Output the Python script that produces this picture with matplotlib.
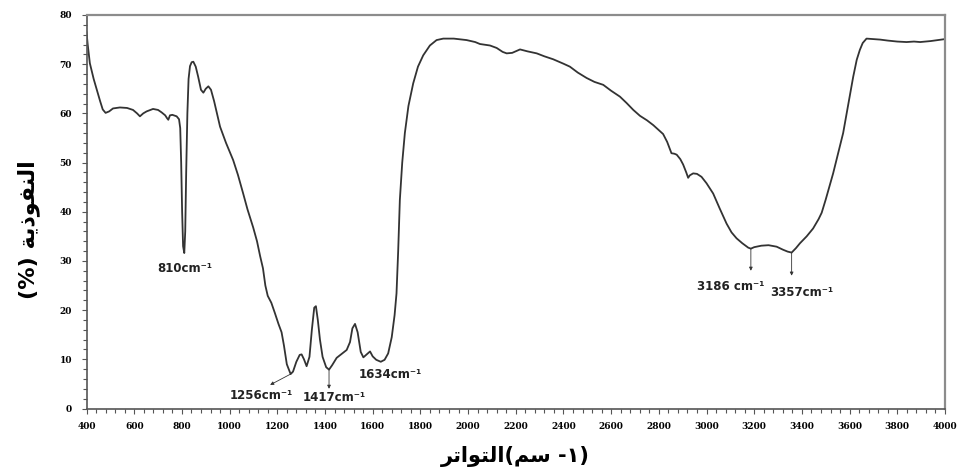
import matplotlib
matplotlib.use("Agg")
import matplotlib.pyplot as plt
from matplotlib.ticker import MultipleLocator

# FTIR transmittance spectrum (wavenumber in cm^-1, transmittance in %)
wavenumber = [
    400, 405, 414, 430, 445, 457, 468, 480, 495, 511, 540, 570, 595, 612, 624,
    638, 652, 679, 700, 715, 730, 738, 743, 750, 760, 778, 788, 793, 797, 801,
    805, 810, 814, 818, 823, 828, 834, 841, 848, 858, 868, 880, 890, 900, 911,
    922, 935, 948, 960, 985, 1015, 1035, 1057, 1075, 1099, 1115, 1128, 1140,
    1150, 1160, 1175, 1190, 1205, 1218, 1228, 1240, 1256, 1266, 1280, 1294,
    1302, 1312, 1323, 1335, 1345, 1355, 1362, 1370, 1379, 1390, 1405, 1417,
    1430, 1449, 1470, 1491, 1505, 1515, 1526, 1537, 1550, 1561, 1575, 1589,
    1600, 1615, 1634, 1650, 1665, 1680, 1692, 1700, 1707, 1714, 1724, 1735,
    1750, 1770, 1790, 1812, 1840, 1868, 1896, 1940, 1994, 2030, 2050, 2092,
    2120, 2145, 2162, 2185, 2218, 2250, 2288, 2320, 2357, 2400, 2427, 2460,
    2497, 2530, 2567, 2600, 2637, 2665, 2693, 2721, 2750, 2777, 2800, 2818,
    2835, 2846, 2853, 2865, 2875, 2890, 2902, 2915, 2923, 2930, 2944, 2960,
    2979, 3000, 3028, 3055, 3084, 3105, 3126, 3150, 3175, 3186, 3200, 3230,
    3260, 3294, 3320, 3340, 3357, 3375, 3392, 3420, 3447, 3470, 3483, 3500,
    3531, 3555, 3573, 3595, 3615, 3630, 3643, 3655, 3671, 3700, 3728, 3760,
    3800, 3839, 3870, 3896, 3940, 3970, 4000,
]
transmittance = [
    76.5, 74.0, 70.2, 67.0, 64.5, 62.5, 60.8, 60.1, 60.4, 61.0, 61.2, 61.1,
    60.7, 60.0, 59.4, 60.0, 60.4, 60.9, 60.7, 60.2, 59.6, 59.0, 58.7, 59.6,
    59.7, 59.4, 58.8, 57.0, 50.0, 40.0, 33.0, 31.6, 36.0, 48.0, 60.0, 67.0,
    69.6, 70.4, 70.5, 69.5, 67.5, 64.8, 64.2, 65.0, 65.5, 64.8, 62.5, 59.8,
    57.3, 54.0, 50.5, 47.5, 43.7, 40.5, 36.8, 34.0, 31.0, 28.5, 25.0, 22.9,
    21.5, 19.4, 17.2, 15.5, 12.8, 9.0, 7.0, 7.5, 9.5, 10.9, 11.0, 10.0, 8.6,
    10.5, 16.0, 20.5, 20.8, 18.0, 14.0, 10.5, 8.4, 7.9, 8.8, 10.3, 11.1,
    11.9, 13.5, 16.3, 17.2, 15.5, 11.5, 10.4, 11.0, 11.6, 10.6, 9.9, 9.5,
    9.9, 11.2, 14.5, 19.0, 23.4, 32.0, 42.4, 50.0, 56.0, 61.5, 66.1, 69.5,
    71.8, 73.8, 74.9, 75.2, 75.2, 74.9, 74.5, 74.1, 73.8, 73.3, 72.5, 72.2,
    72.3, 73.0, 72.6, 72.2, 71.6, 71.0, 70.1, 69.5, 68.3, 67.2, 66.4, 65.8,
    64.6, 63.4, 62.1, 60.7, 59.5, 58.6, 57.6, 56.6, 55.8, 54.2, 52.8, 51.9,
    51.8, 51.6, 50.7, 49.6, 48.0, 46.9, 47.4, 47.8, 47.7, 47.1, 45.8, 43.7,
    40.7, 37.6, 35.8, 34.6, 33.6, 32.7, 32.5, 32.8, 33.1, 33.2, 32.9, 32.3,
    31.9, 31.7, 32.6, 33.6, 35.0, 36.6, 38.5, 39.8, 42.5, 47.8, 52.5, 56.0,
    62.0, 67.4, 70.9, 72.9, 74.3, 75.2, 75.1, 75.0, 74.8, 74.6, 74.5, 74.6,
    74.5, 74.7, 74.9, 75.1,
]

# Labelled absorption bands
peak_positions = [810, 1256, 1417, 1634, 3186, 3357]
peak_labels = ["810cm⁻¹", "1256cm⁻¹", "1417cm⁻¹", "1634cm⁻¹",
               "3186 cm⁻¹", "3357cm⁻¹"]

# Arabic axis titles written in shaped (presentation) forms, visual order
y_title = "(%) " + "\uFE94\uFEF3\uFEAB\uFEEE\uFED4\uFEE8\uFEDF\uFE8D"
x_title = ("\uFEAE\uFE97\uFE8D\uFEEE\uFE98\uFEDF\uFE8D" + "(" +
           "\uFEE2\uFEB3" + " -\u0661)")

fig = plt.figure(figsize=(9.58, 4.76), dpi=100)
ax = fig.add_axes([0.0903, 0.1418, 0.8961, 0.8267])

ax.plot(wavenumber, transmittance, color="#333333", lw=1.3,
        solid_joinstyle="round")

ax.set_xlim(400, 4000)
ax.set_ylim(0, 80)
ax.xaxis.set_major_locator(MultipleLocator(200))
ax.xaxis.set_minor_locator(MultipleLocator(40))
ax.yaxis.set_major_locator(MultipleLocator(10))
ax.yaxis.set_minor_locator(MultipleLocator(2))

tick_font = dict(family="DejaVu Serif", weight="bold", size=6.5)
for lab in ax.get_xticklabels() + ax.get_yticklabels():
    lab.set(**tick_font)
ax.tick_params(which="both", direction="out", color="#555555", width=0.8)
ax.tick_params(which="major", length=3.5)
ax.tick_params(which="minor", length=3)
ax.tick_params(axis="x", pad=6)
ax.tick_params(axis="y", pad=7)

for side in ("top", "right"):
    ax.spines[side].set_color("#8c8c8c")
    ax.spines[side].set_linewidth(1.6)
for side in ("left", "bottom"):
    ax.spines[side].set_color("#555555")
    ax.spines[side].set_linewidth(1.2)

arabic = dict(family="DejaVu Sans", weight="bold")
ax.set_ylabel(y_title, fontsize=16, **arabic)
ax.yaxis.set_label_coords(-0.054, 0.455)
ax.set_xlabel(x_title, fontsize=15, labelpad=11, **arabic)

def value_at(x):
    return transmittance[wavenumber.index(x)]

lab_font = dict(family="DejaVu Sans", weight="bold", size=8.5,
                color="#222222")
arrow = dict(arrowstyle="-|>", color="#333333", lw=0.6,
             mutation_scale=5, shrinkA=0, shrinkB=0)

# 810: label directly under the band
ax.text(peak_positions[0], value_at(810) - 1.9, peak_labels[0],
        ha="center", va="top", **lab_font)
# 1256: slanted leader to the label
ax.annotate("", xy=(1170, 4.8), xytext=(peak_positions[1], value_at(1256)),
            arrowprops=arrow)
ax.text(1133, 2.7, peak_labels[1], ha="center", va="center", **lab_font)
# 1417: vertical leader
ax.annotate("", xy=(1417, 4.0), xytext=(peak_positions[2], value_at(1417)),
            arrowprops=arrow)
ax.text(1437, 2.3, peak_labels[2], ha="center", va="center", **lab_font)
# 1634: label beside the band
ax.text(1672, 6.9, peak_labels[3], ha="center", va="center", **lab_font)
# O-H region pair
ax.annotate("", xy=(3186, 28.0), xytext=(peak_positions[4], value_at(3186)),
            arrowprops=arrow)
ax.text(3103, 24.9, peak_labels[4], ha="center", va="center", **lab_font)
ax.annotate("", xy=(3357, 27.0), xytext=(peak_positions[5], value_at(3357)),
            arrowprops=arrow)
ax.text(3400, 23.6, peak_labels[5], ha="center", va="center", **lab_font)

fig.savefig("out.png", dpi=100)
